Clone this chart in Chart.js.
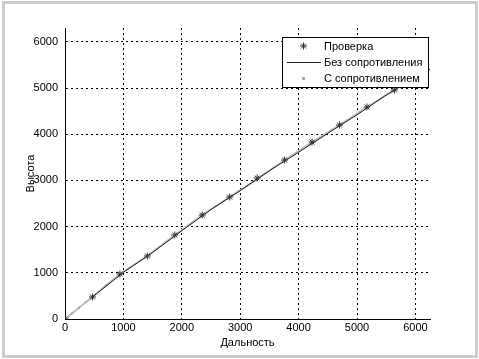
<!DOCTYPE html>
<html>
<head>
<title>Высота и дальность</title>
<script src="https://cdn.jsdelivr.net/npm/chart.js"></script>
<style>
  body { margin: 0; background: #fff; }
  canvas { display: block; }
</style>
</head>
<body>

<canvas id="myChart" width="479" height="359"></canvas>

<script>
  // Данные
  const seriesNames = ['Проверка', 'Без сопротивления', 'С сопротивлением'];

  const checkX = [0, 470, 940, 1410, 1880, 2350, 2820, 3290, 3760, 4230, 4700, 5170, 5640];
  const checkY = [0, 476, 974, 1364, 1818, 2251, 2641, 3052, 3442, 3831, 4199, 4589, 4957];

  const noDragX = [470, 1000, 1500, 2000, 2500, 3000, 3500, 4000, 4500, 5000, 5500, 6000, 6250];
  const noDragY = [476, 1010, 1440, 1910, 2370, 2780, 3210, 3610, 4020, 4420, 4850, 5230, 5410];

  const dragX = [0, 120, 240, 360, 470, 700, 940, 1410, 1880, 2350, 2820, 3290, 3760, 4230, 4700, 5170, 5640, 6000];
  const dragY = [0, 122, 244, 366, 476, 725, 974, 1364, 1818, 2251, 2641, 3029, 3442, 3831, 4199, 4589, 4957, 5230];

  const tickValues = [0, 1000, 2000, 3000, 4000, 5000, 6000];

  const toPoints = (xs, ys) => xs.map((x, i) => ({ x: x, y: ys[i] }));

  const FONT = "'Liberation Sans', Arial, sans-serif";

  // Рамка вокруг картинки
  const framePlugin = {
    id: 'frame',
    beforeDraw(chart) {
      const c = chart.ctx;
      c.save();
      c.fillStyle = '#fff';
      c.fillRect(0, 0, chart.width, chart.height);
      c.strokeStyle = '#cdcdcd';
      c.lineWidth = 3;
      c.strokeRect(3.5, 2.5, chart.width - 6, chart.height - 5);
      c.restore();
    }
  };

  function drawStar(c, x, y, r) {
    c.beginPath();
    c.moveTo(x - r, y); c.lineTo(x + r, y);
    c.moveTo(x, y - r); c.lineTo(x, y + r);
    const d = r * 0.7;
    c.moveTo(x - d, y - d); c.lineTo(x + d, y + d);
    c.moveTo(x - d, y + d); c.lineTo(x + d, y - d);
    c.stroke();
  }

  // Легенда внутри графика, как в MATLAB
  const legendPlugin = {
    id: 'boxLegend',
    afterDraw(chart) {
      const c = chart.ctx;
      const bx = 282, by = 37, bw = 146, bh = 50;
      c.save();
      c.fillStyle = '#fff';
      c.fillRect(bx, by, bw, bh);
      c.strokeStyle = '#000';
      c.lineWidth = 1;
      c.strokeRect(bx + 0.5, by + 0.5, bw, bh);
      c.font = '11px ' + FONT;
      c.textBaseline = 'middle';
      c.fillStyle = '#000';
      const rows = [46, 62, 78];
      chart.data.datasets.forEach((ds, i) => {
        const y = rows[i];
        if (i === 0) {
          c.strokeStyle = ds.pointBorderColor;
          c.lineWidth = 1;
          drawStar(c, 303.5, y, 3.5);
        } else if (i === 1) {
          c.strokeStyle = ds.borderColor;
          c.lineWidth = 1;
          c.beginPath();
          c.moveTo(287, y + 0.5); c.lineTo(321, y + 0.5);
          c.stroke();
        } else {
          c.fillStyle = '#aaa';
          c.fillRect(302, y - 1, 3, 3);
          c.fillStyle = '#000';
        }
        c.fillText(ds.label, 324, y + 0.5);
      });
      c.restore();
    }
  };

  const plainTick = v => String(v);

  const ctx = document.getElementById('myChart').getContext('2d');
  const myChart = new Chart(ctx, {
    type: 'scatter',
    data: {
      datasets: [{
        label: seriesNames[0],
        data: toPoints(checkX, checkY),
        showLine: false,
        pointStyle: 'star',
        pointRadius: 3.5,
        pointBorderWidth: 1,
        pointBorderColor: '#333',
        pointBackgroundColor: '#333'
      }, {
        label: seriesNames[1],
        data: toPoints(noDragX, noDragY),
        showLine: true,
        borderColor: '#222',
        borderWidth: 1,
        pointRadius: 0,
        tension: 0
      }, {
        label: seriesNames[2],
        data: toPoints(dragX, dragY),
        showLine: true,
        borderColor: '#c0c0c0',
        borderWidth: 2,
        pointRadius: 1.2,
        pointBorderWidth: 0,
        pointBackgroundColor: '#aaa',
        tension: 0
      }]
    },
    plugins: [framePlugin, legendPlugin],
    options: {
      responsive: false,
      animation: false,
      devicePixelRatio: 1,
      layout: { padding: { left: 0, top: 28, right: 49, bottom: 0 } },
      plugins: {
        legend: { display: false },
        tooltip: { enabled: false }
      },
      scales: {
        x: {
          type: 'linear',
          min: 0,
          max: 6250,
          afterFit(scale) { scale.height = 40; },
          afterBuildTicks(scale) { scale.ticks = tickValues.map(v => ({ value: v })); },
          ticks: {
            color: '#000',
            font: { family: FONT, size: 11 },
            padding: 2,
            maxRotation: 0,
            callback: plainTick
          },
          grid: { color: '#000', lineWidth: 1, drawTicks: false },
          border: { display: true, color: '#000', width: 1, dash: [2, 3] },
          title: {
            display: true,
            text: 'Дальность',
            color: '#000',
            font: { family: FONT, size: 11 },
            padding: { top: 0, bottom: 9 }
          }
        },
        y: {
          type: 'linear',
          min: 0,
          max: 6300,
          afterFit(scale) { scale.width = 65; },
          afterBuildTicks(scale) { scale.ticks = tickValues.map(v => ({ value: v })); },
          ticks: {
            color: '#000',
            font: { family: FONT, size: 11 },
            padding: 7,
            callback: plainTick
          },
          grid: { color: '#000', lineWidth: 1, drawTicks: false },
          border: { display: true, color: '#000', width: 1, dash: [2, 3] },
          title: {
            display: true,
            text: 'Высота',
            color: '#000',
            font: { family: FONT, size: 11 },
            padding: { top: 24, bottom: 0 }
          }
        }
      }
    }
  });
</script>

</body>
</html>
